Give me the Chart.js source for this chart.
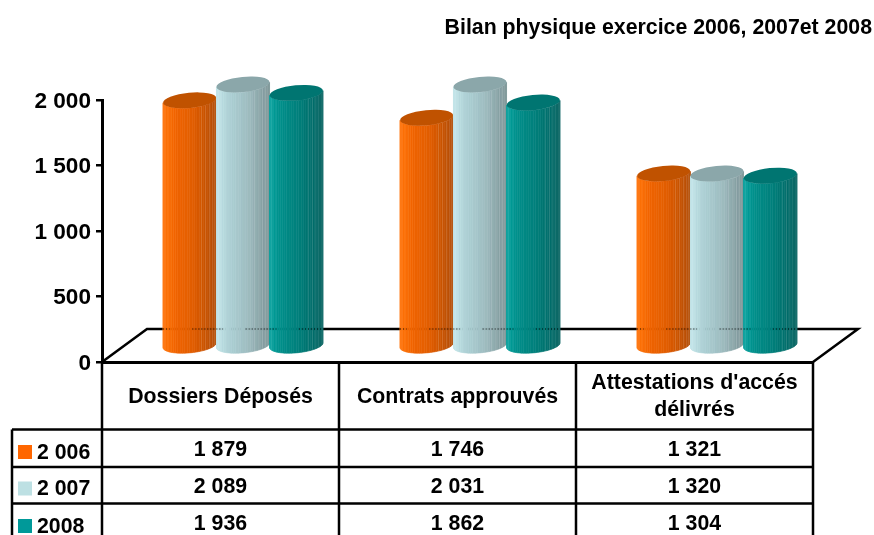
<!DOCTYPE html>
<html lang="en">
<head>
<meta charset="UTF-8" />
<title>Bilan physique</title>
<script src="https://cdn.jsdelivr.net/npm/chart.js"></script>
<style>
  html, body { margin: 0; padding: 0; background: #fff; }
  canvas { display: block; }
</style>
</head>
<body>
<canvas id="chart" width="874" height="535"></canvas>
<script>
const chartTitle = "Bilan physique exercice 2006, 2007et 2008";
const categories = ["Dossiers Déposés", "Contrats approuvés", "Attestations d'accés délivrés"];
const categoryLines = [["Dossiers Déposés"], ["Contrats approuvés"], ["Attestations d'accés", "délivrés"]];
const seriesNames = ["2 006", "2 007", "2008"];
const values2006 = [1879, 1746, 1321];
const values2007 = [2089, 2031, 1320];
const values2008 = [1936, 1862, 1304];
const tableRows = [values2006, values2007, values2008];
const yTicks = [0, 500, 1000, 1500, 2000];

const FONT = '"Liberation Sans", Arial, sans-serif';
const DEPTH_X = 45, DEPTH_Y = 33, LIFT = 15.5;
const swatches = ["#ff6600", "#bde0e3", "#009999"];
const caps = ["#c05200", "#8ba7aa", "#007571"];
// side shading of each cylinder, left to right
const shades = [
  [[255, 116, 10], [240, 100, 0], [222, 92, 0], [176, 74, 0]],
  [[194, 228, 232], [172, 208, 212], [158, 188, 192], [122, 146, 148]],
  [[0, 160, 156], [0, 140, 136], [0, 124, 120], [0, 96, 94]]
];

const fmt = n => String(n).replace(/\B(?=(\d{3})+$)/g, " ");

function shadeAt(stops, u) {
  const pos = [0, 0.25, 0.6, 1];
  let i = 0;
  while (i < 2 && u > pos[i + 1]) i++;
  const k = (u - pos[i]) / (pos[i + 1] - pos[i]);
  return stops[i].map((c, j) => Math.round(c + (stops[i + 1][j] - c) * k));
}

function drawCylinder(ctx, idx, cx, yTop, yBottom, rx) {
  const ry = 7.6, phi = -5.5 * Math.PI / 180, n = 34;
  const t0 = Math.atan(-(ry / rx) * Math.tan(phi));
  const pt = t => [
    rx * Math.cos(t) * Math.cos(phi) - ry * Math.sin(t) * Math.sin(phi),
    rx * Math.cos(t) * Math.sin(phi) + ry * Math.sin(t) * Math.cos(phi)
  ];
  for (let i = 0; i < n; i++) {
    const a = pt(t0 + Math.PI * i / n), b = pt(t0 + Math.PI * (i + 1) / n);
    const u = 1 - ((a[0] + b[0]) / 2 + rx) / (2 * rx);
    const col = "rgb(" + shadeAt(shades[idx], 1 - u).join(",") + ")";
    ctx.fillStyle = col;
    ctx.strokeStyle = col;
    ctx.lineWidth = 0.6;
    ctx.beginPath();
    ctx.moveTo(cx + a[0], yTop + a[1]);
    ctx.lineTo(cx + b[0], yTop + b[1]);
    ctx.lineTo(cx + b[0], yBottom + b[1]);
    ctx.lineTo(cx + a[0], yBottom + a[1]);
    ctx.closePath();
    ctx.fill();
    ctx.stroke();
    // facet seams
    if (i % 2 === 0 && (i < 14 || i > 29)) {
      ctx.strokeStyle = "rgba(255,255,255,0.2)";
      ctx.beginPath();
      ctx.moveTo(cx + a[0], yTop + a[1]);
      ctx.lineTo(cx + a[0], yBottom + a[1]);
      ctx.stroke();
    }
  }
  ctx.fillStyle = caps[idx];
  ctx.beginPath();
  ctx.ellipse(cx, yTop, rx, ry, phi, 0, Math.PI * 2);
  ctx.fill();
}

const floorPlugin = {
  id: "floor",
  beforeDatasetsDraw(chart) {
    const { ctx, chartArea: a } = chart;
    ctx.save();
    ctx.strokeStyle = "#000";
    ctx.lineWidth = 2.5;
    ctx.beginPath();
    ctx.moveTo(a.left, a.bottom);
    ctx.lineTo(a.left + DEPTH_X, a.bottom - DEPTH_Y);
    ctx.lineTo(a.right + DEPTH_X, a.bottom - DEPTH_Y);
    ctx.lineTo(a.right, a.bottom);
    ctx.stroke();
    ctx.restore();
  }
};

const cylinderPlugin = {
  id: "cylinders",
  afterDatasetsDraw(chart) {
    const { ctx, chartArea: a } = chart;
    ctx.save();
    chart.data.datasets.forEach((ds, d) => {
      chart.getDatasetMeta(d).data.forEach(bar => {
        const yTop = Math.max(bar.y, a.top) - LIFT;
        const yBottom = bar.base - LIFT;
        drawCylinder(ctx, d, bar.x + DEPTH_X / 2, yTop, yBottom, bar.width / 2);
      });
    });
    // floor line showing faintly through the facets
    ctx.strokeStyle = "rgba(0,0,0,0.45)";
    ctx.lineWidth = 2;
    ctx.setLineDash([1, 2]);
    chart.data.datasets.forEach((ds, d) => {
      chart.getDatasetMeta(d).data.forEach(bar => {
        const x0 = bar.x + DEPTH_X / 2, w = bar.width / 2;
        ctx.beginPath();
        ctx.moveTo(x0 + w * 0.1, a.bottom - DEPTH_Y);
        ctx.lineTo(x0 + w, a.bottom - DEPTH_Y);
        ctx.moveTo(x0 - w, a.bottom - DEPTH_Y);
        ctx.lineTo(x0 - w * 0.75, a.bottom - DEPTH_Y);
        ctx.stroke();
      });
    });
    ctx.restore();
  }
};

const tablePlugin = {
  id: "dataTable",
  afterDraw(chart) {
    const { ctx, chartArea: a, scales } = chart;
    const rowLines = [429.5, 467, 503.5];
    const bottom = 535, tableLeft = 12;
    const rowText = [450, 487, 524];
    const swatchMid = [452, 488.5, 526];
    const half = (a.right - a.left) / categories.length / 2;
    ctx.save();
    // title
    ctx.fillStyle = "#000";
    ctx.textBaseline = "middle";
    ctx.font = "bold 21.3px " + FONT;
    ctx.textAlign = "right";
    ctx.fillText(chartTitle, 872, 28);
    // grid
    ctx.strokeStyle = "#000";
    ctx.lineWidth = 2.5;
    ctx.beginPath();
    categories.forEach((c, i) => {
      const x = scales.x.getPixelForValue(i) + half;
      ctx.moveTo(x, a.bottom);
      ctx.lineTo(x, bottom);
    });
    ctx.moveTo(a.left, a.bottom);
    ctx.lineTo(a.left, bottom);
    ctx.moveTo(tableLeft, rowLines[0]);
    ctx.lineTo(tableLeft, bottom);
    rowLines.forEach(y => {
      ctx.moveTo(tableLeft, y);
      ctx.lineTo(a.right, y);
    });
    ctx.stroke();
    // header
    ctx.textAlign = "center";
    categoryLines.forEach((lines, i) => {
      const x = scales.x.getPixelForValue(i);
      lines.forEach((txt, l) => {
        const y = 397 + (l - (lines.length - 1) / 2) * 27;
        ctx.fillText(txt, x, y);
      });
    });
    // values
    tableRows.forEach((row, r) => {
      row.forEach((v, i) => ctx.fillText(fmt(v), scales.x.getPixelForValue(i), rowText[r]));
    });
    // series keys
    ctx.textAlign = "left";
    seriesNames.forEach((name, r) => {
      ctx.fillStyle = swatches[r];
      ctx.fillRect(18, swatchMid[r] - 7, 14, 14);
      ctx.fillStyle = "#000";
      ctx.fillText(name, 37, swatchMid[r] + 1);
    });
    ctx.restore();
  }
};

new Chart(document.getElementById("chart"), {
  type: "bar",
  data: {
    labels: categories,
    datasets: [
      { label: seriesNames[0], data: values2006, backgroundColor: "rgba(0,0,0,0)" },
      { label: seriesNames[1], data: values2007, backgroundColor: "rgba(0,0,0,0)" },
      { label: seriesNames[2], data: values2008, backgroundColor: "rgba(0,0,0,0)" }
    ]
  },
  options: {
    responsive: false,
    animation: false,
    events: [],
    layout: { padding: { top: 100, right: 61, bottom: 105, left: 0 } },
    datasets: { bar: { categoryPercentage: 0.675, barPercentage: 1 } },
    plugins: { legend: { display: false }, title: { display: false }, tooltip: { enabled: false } },
    scales: {
      x: {
        afterFit(s) { s.height = 68; },
        ticks: { display: false },
        grid: { display: false },
        border: { display: true, color: "#000", width: 3 }
      },
      y: {
        min: 0,
        max: 2000,
        afterFit(s) { s.width = 102; },
        afterBuildTicks(s) { s.ticks = yTicks.map(v => ({ value: v })); },
        ticks: {
          color: "#000",
          padding: 5,
          labelOffset: 1.5,
          font: { family: FONT, size: 22.6, weight: "bold" },
          callback: v => fmt(v)
        },
        grid: { drawOnChartArea: false, color: "#000", lineWidth: 2.5, tickLength: 6 },
        border: { display: true, color: "#000", width: 3 }
      }
    }
  },
  plugins: [floorPlugin, cylinderPlugin, tablePlugin]
});
</script>
</body>
</html>
